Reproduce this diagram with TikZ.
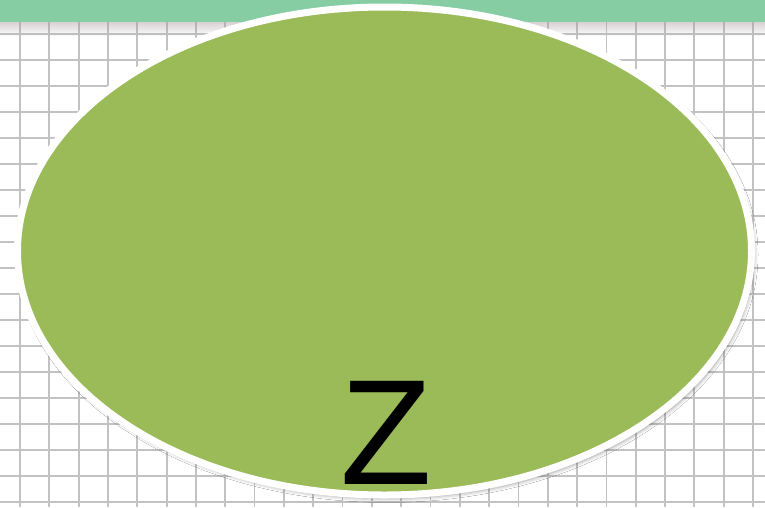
\documentclass[tikz,border=0pt]{standalone}
\usepackage{fontspec}
\setmainfont{Liberation Sans}
\usetikzlibrary{shapes.geometric,shadows.blur}
\definecolor{padgreen}{HTML}{9BBB59}
\definecolor{bandgreen}{HTML}{86CDA3}
\definecolor{gridgray}{HTML}{C2C2C2}
\definecolor{bandshade}{HTML}{A8989E}
\tikzset{
  gridline/.style={draw=gridgray,line width=1.8pt},
  bubble/.style={ellipse,draw=white,fill=padgreen,line width=7pt,inner sep=0pt,
    minimum width=734pt,minimum height=488pt,
    blur shadow={shadow xshift=2.5pt,shadow yshift=-3.5pt,shadow blur radius=4pt}},
  bigletter/.style={font=\fontsize{150}{150}\selectfont,text=black,inner sep=0pt}
}

\begin{document}
\begin{tikzpicture}[x=1pt,y=-1pt]
\useasboundingbox (0,0) rectangle (765,507);
\fill[white] (0,0) rectangle (765,507);
% squared paper
\foreach \k in {-1,...,25}
  \draw[gridline] (20+29.32*\k,0) -- (20+29.32*\k,507);
\foreach \k in {0,...,19}
  \draw[gridline] (0,8+26*\k) -- (765,8+26*\k);
% strip at the top and its shade
\foreach \i in {0,...,6}
  \fill[bandshade,opacity=0.42-0.06*\i] (0,22+2*\i) rectangle (765,24+2*\i);
\fill[bandgreen] (0,0) rectangle (765,22);
\node[bubble] (disk) at (384.5,251) {};
\node[bigletter,anchor=base] (zletter) at (386,484) {Z};
\end{tikzpicture}
\end{document}
